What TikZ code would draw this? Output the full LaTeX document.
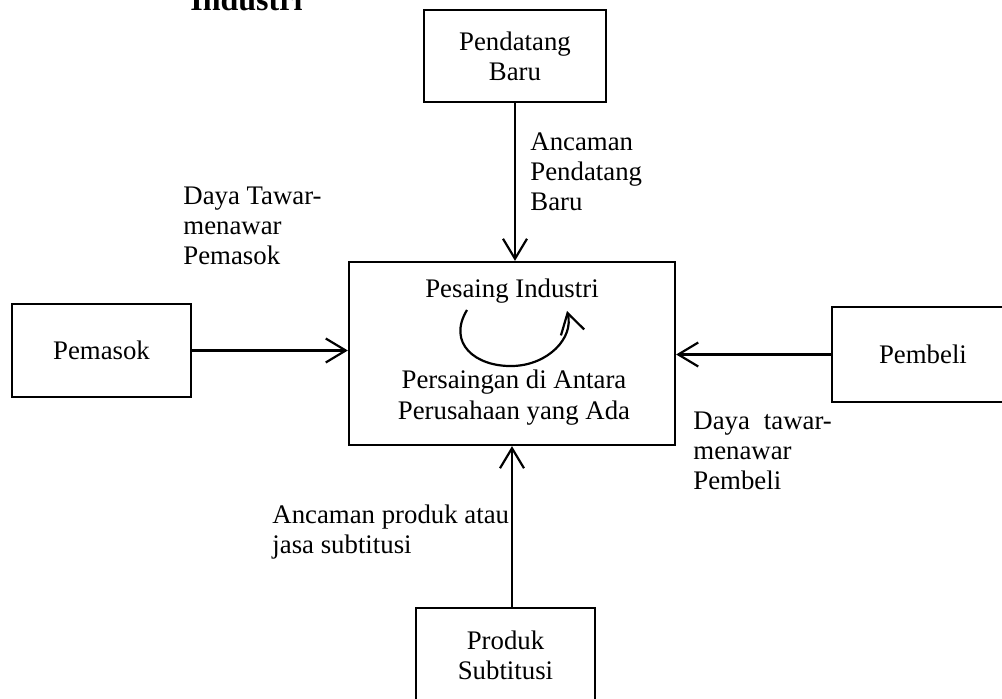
\documentclass[tikz,border=0pt]{standalone}
\usepackage{fontspec}
\setmainfont{Liberation Serif}
\usetikzlibrary{arrows.meta,calc}
\begin{document}
\begin{tikzpicture}[x=0.5pt,y=-0.5pt,
  box/.style={draw,line width=1.1pt,inner sep=0pt,align=center,font=\fontsize{13.4}{15}\selectfont},
  lbl/.style={inner sep=0pt,align=left,anchor=north west,font=\fontsize{13.4}{15}\selectfont},
  txt/.style={inner sep=0pt,align=center,font=\fontsize{13.4}{15.5}\selectfont},
  arr/.style={line width=1.1pt,-{Straight Barb[length=10pt,width=12pt,line width=1.1pt]}}]
\useasboundingbox (0,0) rectangle (1002,699);
% title (cut at top)
\node[anchor=base west,inner sep=0pt,font=\bfseries\fontsize{16}{19}\selectfont] (title) at (190,11) {Industri};
% boxes
\node[box,minimum width=91pt,minimum height=46pt] (pend) at (515,56) {Pendatang\\Baru};
\node[draw,line width=1.1pt,minimum width=163pt,minimum height=91.5pt,inner sep=0pt] (main) at (512,353.5) {};
\node[box,minimum width=89.5pt,minimum height=46.5pt] (pem) at (101.5,350.5) {Pemasok};
\node[box,minimum width=91pt,minimum height=47.5pt] (beli) at (923,354.5) {Pembeli};
\node[box,minimum width=89.5pt,minimum height=47pt] (prod) at (505.5,655) {Produk\\Subtitusi};
% texts inside main box
\node[txt] (pi) at (512,291) {Pesaing Industri};
\node[txt] (pa) at (514,398) {Persaingan di Antara\\Perusahaan yang Ada};
% labels
\node[lbl] (dtp) at (183,187) {Daya Tawar-\\menawar\\Pemasok};
\node[lbl] (apb) at (530,132) {Ancaman\\Pendatang\\Baru};
\node[lbl] (dtb) at (693,412) {Daya\hspace{7pt}tawar-\\menawar\\Pembeli};
\node[lbl] (apj) at (272,505) {Ancaman produk atau\\jasa subtitusi};
% connectors
\draw[arr] (pend.south) -- (pend.south |- main.north);
\draw[arr] (pem.east) -- (pem.east -| main.west);
\draw[arr] (beli.west) -- (beli.west -| main.east);
\draw[arr] (main.south |- prod.north) -- (main.south);
% circular arrow
\coordinate (ca) at (467,310);
\coordinate (cb) at (513,366);
\coordinate (cc) at (567,311);
\draw[arr] (ca) .. controls (447,343) and (475,367) .. (cb) .. controls (548,365) and (574,338) .. (cc);
\end{tikzpicture}
\end{document}
